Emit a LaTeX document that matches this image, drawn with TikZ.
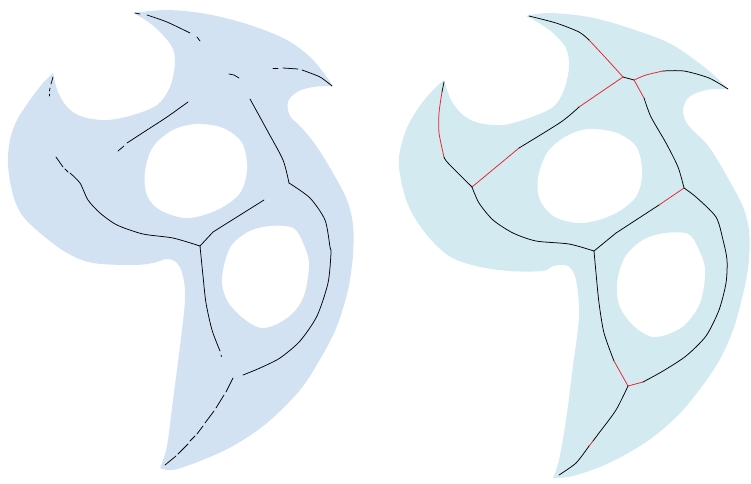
\documentclass[tikz,border=0pt]{standalone}
\definecolor{leftfill}{HTML}{D3E2F3}
\definecolor{rightfill}{HTML}{D2EAF0}
\definecolor{skelred}{HTML}{E8202A}
\tikzset{
  sm/.style={smooth,tension=0.45},
  ol/.style={smooth,tension=0.55},
  smc/.style={smooth cycle,tension=0.55},
  skel/.style={line width=0.75pt,black,line join=round,line cap=round},
  skelr/.style={line width=0.75pt,skelred,line join=round,line cap=round},
  hole/.style={fill=white,draw=none},
}
\begin{document}
\begin{tikzpicture}[x=1pt,y=-1pt]
\useasboundingbox (0,0) rectangle (751,483);
% ---------- left shape ----------
\fill[leftfill] plot[ol] coordinates {(133,13)(167,10)(207,14)(250,25)(287,40)(310,57)(323,72)(333,86)}
  -- plot[ol] coordinates {(333,86)(313,87)(297,92)(288,102)(290,116)(302,128)(317,147)(333,173)(347,200)(353,225)(353,255)(348,290)(337,326)(322,356)(300,390)(267,423)(233,446)(200,461)(173,470)(160,468)}
  -- plot[ol] coordinates {(160,468)(167,446)(173,400)(180,346)(185,300)(183,276)(177,263)(167,259)(153,263)(133,265)(93,263)(67,253)(40,233)(22,215)(13,195)(8,165)(10,140)(17,120)(30,100)(43,83)(53,73)}
  -- plot[ol] coordinates {(53,73)(58,92)(68,108)(83,117)(107,120)(133,115)(157,105)(170,87)(175,63)(172,47)(160,32)(147,21)(133,13)} -- cycle;
\fill[hole] plot[smc] coordinates {(197,124)(223,128)(242,143)(247,168)(240,193)(217,210)(187,218)(160,210)(147,195)(145,172)(153,147)(173,130)};
\fill[hole] plot[smc] coordinates {(270,226)(293,228)(303,243)(309,265)(303,298)(287,318)(263,328)(243,318)(227,300)(222,278)(230,248)(248,232)};
% ---------- right shape ----------
\fill[rightfill] plot[ol] coordinates {(526,16)(549,13)(589,17)(629,28)(669,43)(699,63)(716,77)(728,89)}
  -- plot[ol] coordinates {(728,89)(706,90)(689,97)(683,110)(688,125)(709,147)(729,180)(743,207)(749,230)(749,260)(744,290)(733,330)(716,366)(683,410)(649,440)(609,463)(573,476)(553,478)}
  -- plot[ol] coordinates {(553,478)(559,460)(566,420)(573,366)(579,316)(576,280)(568,266)(553,266)(543,271)(509,271)(476,266)(449,256)(426,234)(409,207)(401,180)(399,157)(406,130)(419,107)(433,90)(444,80)}
  -- plot[ol] coordinates {(444,80)(451,100)(463,115)(479,123)(503,125)(529,118)(553,107)(564,90)(569,67)(566,48)(553,33)(539,23)(526,16)} -- cycle;
\fill[hole] plot[smc] coordinates {(588,129)(617,133)(637,148)(642,175)(635,198)(612,215)(582,223)(555,217)(540,200)(538,178)(547,153)(565,137)};
\fill[hole] plot[smc] coordinates {(665,233)(688,234)(698,248)(705,270)(700,303)(682,327)(655,337)(635,327)(620,307)(617,283)(625,257)(643,240)};
% ---------- left skeleton (broken) ----------
\draw[skel] (135,13)--(140,14);
\draw[skel] plot[sm] coordinates {(147,15)(167,22)(190,33)};
\draw[skel] (197,37)--(200,41);
\draw[skel] (229,74)--(234,75)--(239,78);
\draw[skel] (273,68)--(278,68);
\draw[skel] (283,68)--(298,69);
\draw[skel] plot[sm] coordinates {(302,70)(320,77)(332,86)};
\draw[skel] (53,77)--(51,84);
\draw[skel] (50,88)--(49.5,91);
\draw[skel] (49,94)--(49,96);
\draw[skel] plot[sm] coordinates {(188,102)(167,117)(147,130)(127,143)};
\draw[skel] (124,146)--(118,151);
\draw[skel] (56,157)--(63,167);
\draw[skel] (65,169)--(68,172);
\draw[skel] plot[sm] coordinates {(70,173)(80,183)(88,200)(100,213)(117,225)(143,234)(173,238)(200,246)};
\draw[skel] (200,246)--(213,232)--(264,200);
\draw[skel] plot[sm] coordinates {(250,99)(267,130)(283,160)(289,183)};
\draw[skel] plot[sm] coordinates {(289,183)(310,198)(325,220)(330,247)(331,253)(328,283)(317,316)(300,341)(280,358)(260,368)(243,375)};
\draw[skel] plot[sm] coordinates {(200,246)(203,276)(206,303)(212,330)(220,351)};
\draw[skel] (221,355)--(221.5,356.5);
\draw[skel] (233,378)--(226,392);
\draw[skel] (224,395)--(216,408);
\draw[skel] (214,411)--(205,423);
\draw[skel] (203,426)--(197,434);
\draw[skel] (195,436)--(190,441);
\draw[skel] (188,444)--(178,454);
\draw[skel] (176,456)--(165,465);
% ---------- right skeleton ----------
\coordinate (A) at (623,77);
\coordinate (B) at (634,80);
\coordinate (C) at (472,187);
\coordinate (D) at (684,188);
\coordinate (E) at (594,251);
\coordinate (F) at (628,386);
\draw[skel] plot[sm] coordinates {(529,16)(556,23)(579,32)(589,40)};
\draw[skelr] plot[sm] coordinates {(589,40)(603,55)(614,67)(A)};
\draw[skel] (A)--(B);
\draw[skelr] plot[sm] coordinates {(B)(646,75)(663,71)};
\draw[skel] plot[sm] coordinates {(663,71)(684,71)(709,78)(728,89)};
\draw[skel] (444,82)--(442,92);
\draw[skelr] plot[sm] coordinates {(442,92)(439,113)(439,133)(444,157)};
\draw[skel] plot[sm] coordinates {(444,157)(448,163)(C)};
\draw[skelr] (C)--(519,148);
\draw[skel] plot[sm] coordinates {(519,148)(561,122)(579,107)};
\draw[skelr] (579,107)--(A);
\draw[skelr] (B)--(644,98);
\draw[skel] plot[sm] coordinates {(644,98)(651,117)(666,143)(678,167)(D)};
\draw[skel] plot[sm] coordinates {(C)(479,203)(493,220)(513,233)(536,241)(569,244)(E)};
\draw[skel] (E)--(616,233)--(659,205);
\draw[skelr] (659,205)--(D);
\draw[skel] plot[sm] coordinates {(D)(696,197)(716,217)(723,240)(727,260)(726,283)(719,310)(706,336)(686,356)(663,371)(643,382)};
\draw[skelr] (643,382)--(F);
\draw[skel] plot[sm] coordinates {(E)(596,273)(599,303)(604,333)(614,361)};
\draw[skelr] (614,361)--(F);
\draw[skel] plot[sm] coordinates {(F)(616,410)(599,433)(593,441)};
\draw[skelr] (593,441)--(589,446);
\draw[skel] plot[sm] coordinates {(589,446)(576,463)(559,475)};
\end{tikzpicture}
\end{document}
